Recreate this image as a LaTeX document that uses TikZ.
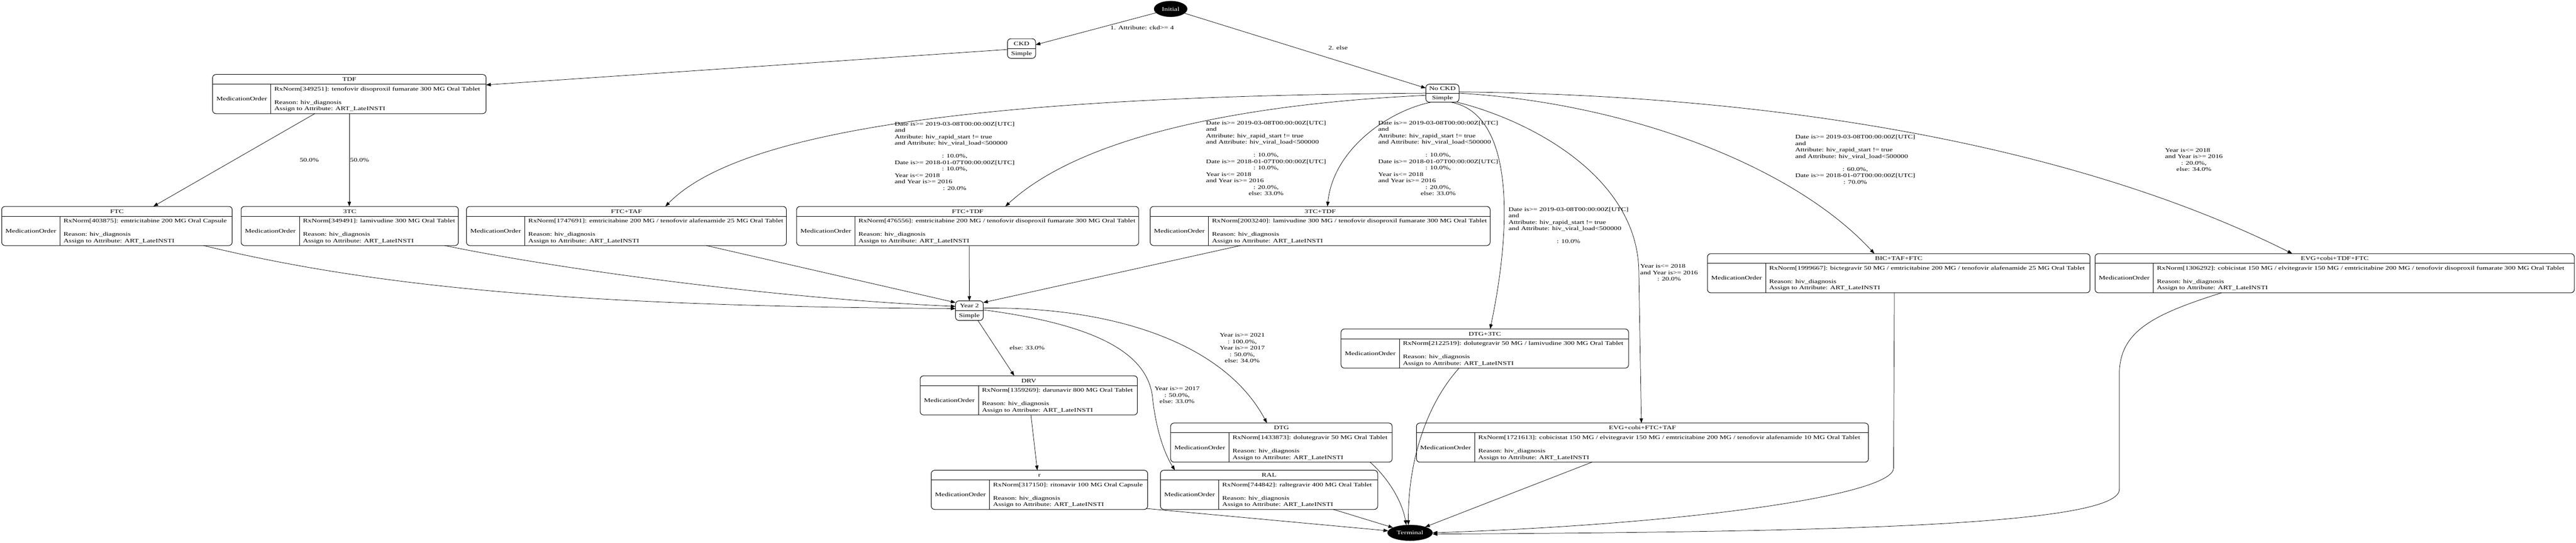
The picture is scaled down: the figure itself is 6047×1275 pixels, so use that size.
\documentclass[tikz,border=0pt]{standalone}
\usepackage{fontspec}
\setmainfont{Liberation Serif}[FakeStretch=1.33]
\usetikzlibrary{arrows.meta,calc,shapes.geometric}
\newcommand\mcline[1]{\multicolumn{1}{@{}c@{}}{#1}}
\newcommand\medbox[7]{%
  \node[medframe, minimum width={#4-#2}, minimum height={#5-#3}] (#1) at ({(#2+#4)/2},{(#3+#5)/2}) {};
  \draw[divline] ([yshift=-23pt]#1.north west) -- ([yshift=-23pt]#1.north east);
  \draw[divline] ([xshift=137pt,yshift=-23pt]#1.north west) -- ([xshift=137pt]#1.south west);
  \node[txt] (#1-t) at ([yshift=-11.5pt]#1.north) {#6};
  \node[txt] (#1-m) at ([xshift=68.5pt,yshift=-57.5pt]#1.north west) {MedicationOrder};
  \node[txt,anchor=west] (#1-r) at ([xshift=145pt,yshift=-34pt]#1.north west) {#7};
  \node[txt,anchor=west] (#1-e) at ([xshift=145pt,yshift=-65.5pt]#1.north west) {Reason: hiv\_diagnosis};
  \node[txt,anchor=west] (#1-a) at ([xshift=145pt,yshift=-80.5pt]#1.north west) {Assign to Attribute: ART\_LateINSTI};
}
\newcommand\simplebox[6]{%
  \node[medframe, minimum width={#4-#2}, minimum height={#5-#3}] (#1) at ({(#2+#4)/2},{(#3+#5)/2}) {};
  \draw[divline] (#1.west) -- (#1.east);
  \node[txt] (#1-t) at ($(#1.north)!0.25!(#1.south)$) {#6};
  \node[txt] (#1-s) at ($(#1.north)!0.75!(#1.south)$) {Simple};
}
\begin{document}
\begin{tikzpicture}[x=1pt,y=-1pt,
  font=\fontsize{13}{15.1}\selectfont,
  medframe/.style={draw, line width=1.2pt, rounded corners=8pt, inner sep=0pt, outer sep=0pt},
  divline/.style={line width=1.1pt},
  txt/.style={inner sep=0pt, text height=8.6pt, text depth=0pt},
  lbl/.style={inner sep=0pt},
  term/.style={ellipse, fill=black, draw=black, text=white, inner sep=0pt, outer sep=0pt},
  edge/.style={draw, line width=0.9pt, -{Triangle[length=11pt,width=8pt]}}]
\useasboundingbox (0,0) rectangle (6047,1275);

% start / end
\node[term, minimum width=78pt, minimum height=37pt] (init) at (2748,21) {Initial};
\node[term, minimum width=106pt, minimum height=37pt] (term) at (3310,1252) {Terminal};

% simple states
\simplebox{ckd}{2365}{91}{2431}{137}{CKD}
\simplebox{nockd}{3347}{198}{3425}{240}{No CKD}
\simplebox{year2}{2243}{707}{2308}{753}{Year 2}

% medication orders
\medbox{tdf}{499}{175}{1141}{267}{TDF}{RxNorm[349251]: tenofovir disoproxil fumarate 300 MG Oral Tablet}
\medbox{ftc}{4}{485}{545}{577}{FTC}{RxNorm[403875]: emtricitabine 200 MG Oral Capsule}
\medbox{3tc}{566}{485}{1076}{577}{3TC}{RxNorm[349491]: lamivudine 300 MG Oral Tablet}
\medbox{ftctaf}{1095}{485}{1846}{577}{FTC+TAF}{RxNorm[1747691]: emtricitabine 200 MG / tenofovir alafenamide 25 MG Oral Tablet}
\medbox{ftctdf}{1870}{485}{2673}{577}{FTC+TDF}{RxNorm[476556]: emtricitabine 200 MG / tenofovir disoproxil fumarate 300 MG Oral Tablet}
\medbox{3tctdf}{2700}{485}{3498}{577}{3TC+TDF}{RxNorm[2003240]: lamivudine 300 MG / tenofovir disoproxil fumarate 300 MG Oral Tablet}
\medbox{bic}{4008}{596}{4906}{688}{BIC+TAF+FTC}{RxNorm[1999667]: bictegravir 50 MG / emtricitabine 200 MG / tenofovir alafenamide 25 MG Oral Tablet}
\medbox{evgtdf}{4918}{596}{6043}{688}{EVG+cobi+TDF+FTC}{RxNorm[1306292]: cobicistat 150 MG / elvitegravir 150 MG / emtricitabine 200 MG / tenofovir disoproxil fumarate 300 MG Oral Tablet}
\medbox{dtg3tc}{3148}{773}{3823}{865}{DTG+3TC}{RxNorm[2122519]: dolutegravir 50 MG / lamivudine 300 MG Oral Tablet}
\medbox{drv}{2160}{883}{2670}{975}{DRV}{RxNorm[1359269]: darunavir 800 MG Oral Tablet}
\medbox{dtg}{2748}{994}{3268}{1086}{DTG}{RxNorm[1433873]: dolutegravir 50 MG Oral Tablet}
\medbox{evgtaf}{3325}{994}{4386}{1086}{EVG+cobi+FTC+TAF}{RxNorm[1721613]: cobicistat 150 MG / elvitegravir 150 MG / emtricitabine 200 MG / tenofovir alafenamide 10 MG Oral Tablet}
\medbox{rtv}{2186}{1105}{2694}{1197}{r}{RxNorm[317150]: ritonavir 100 MG Oral Capsule}
\medbox{ral}{2724}{1105}{3234}{1197}{RAL}{RxNorm[744842]: raltegravir 400 MG Oral Tablet}

% edges from the top
\draw[edge] (init) -- (ckd);
\draw[edge] (init) -- (nockd);
\draw[edge] (ckd) -- (tdf);
\draw[edge] ([xshift=240pt]tdf.south west) -- ([xshift=356pt]ftc.north west);
\draw[edge] ([xshift=321pt]tdf.south west) -- ([xshift=254pt]3tc.north west);

% edges from No CKD
\draw[edge] (nockd.west) .. controls (2400,225) and (1750,292) .. ([xshift=467pt]ftctaf.north west);
\draw[edge] ([yshift=-5pt]nockd.west) .. controls (3000,240) and (2560,300) .. ([xshift=490pt]ftctdf.north west);
\draw[edge] ([xshift=13pt]nockd.south west) .. controls (3260,260) and (3130,350) .. ([xshift=416pt]3tctdf.north west);
\draw[edge] ([xshift=58pt]nockd.south west) .. controls (3545,265) and (3555,500) .. ([xshift=350pt]dtg3tc.north west);
\draw[edge] ([xshift=-5pt]nockd.south east) .. controls (3600,285) and (3846,420) .. (3847,640) -- ([xshift=528pt]evgtaf.north west);
\draw[edge] (nockd.east) .. controls (3800,240) and (4200,380) .. ([xshift=392pt]bic.north west);
\draw[edge] ([yshift=3pt]nockd.east) .. controls (4300,225) and (4950,380) .. ([xshift=463pt]evgtdf.north west);

% edges into Year 2
\draw[edge] ([xshift=474pt]ftc.south west) .. controls (900,680) and (1400,720) .. ([yshift=5pt]year2.west);
\draw[edge] ([xshift=478pt]3tc.south west) .. controls (1300,630) and (1800,700) .. ([yshift=10pt]year2.west);
\draw[edge] ([xshift=563pt]ftctaf.south west) -- ([yshift=-4pt]year2.north west);
\draw[edge] ([xshift=405pt]ftctdf.south west) -- (year2.north);
\draw[edge] ([xshift=212pt]3tctdf.south west) -- ([yshift=-4pt]year2.north east);

% edges from Year 2
\draw[edge] ([xshift=20pt]year2.south) -- ([xshift=221pt]drv.north west);
\draw[edge] ([yshift=2pt]year2.east) .. controls (2550,760) and (2690,820) .. (2705,930) .. controls (2712,1000) and (2730,1060) .. ([xshift=34pt]ral.north west);
\draw[edge] ([yshift=6pt]year2.east) .. controls (2600,720) and (2870,800) .. ([xshift=226pt]dtg.north west);
\draw[edge] ([xshift=260pt]drv.south west) -- ([xshift=249pt]rtv.north west);

% edges into Terminal
\draw[edge] ([xshift=-2pt,yshift=2pt]rtv.south east) -- (term);
\draw[edge] ([xshift=406pt]ral.south west) -- (term);
\draw[edge] ([xshift=468pt]dtg.south west) .. controls (3250,1115) and (3290,1170) .. ([xshift=-9pt]term.north);
\draw[edge] ([xshift=277pt]dtg3tc.south west) .. controls (3340,960) and (3305,1100) .. ([xshift=-4pt]term.north);
\draw[edge] ([xshift=412pt]evgtaf.south west) -- (term);
\draw[edge] ([xshift=439pt]bic.south west) -- (4445,1100) .. controls (4445,1160) and (4000,1230) .. (term.east);
\draw[edge] ([xshift=297pt]evgtdf.south west) .. controls (5050,740) and (4975,780) .. (4975,880) -- (4975,1150) .. controls (4975,1240) and (4200,1250) .. ([yshift=-3pt]term.east);

% edge labels
\node[txt] (l1) at (2681,65) {1. Attribute: ckd>= 4};
\node[txt] (l2) at (3141,113) {2. else};
\node[txt] (l3) at (726,376) {50.0\%};
\node[txt] (l4) at (844,376) {50.0\%};
\node[lbl] (l5) at (2241,368) {\begin{tabular}{@{}l@{}}
Date is>= 2019-03-08T00:00:00Z[UTC]\\
and\\
Attribute: hiv\_rapid\_start != true\\
and Attribute: hiv\_viral\_load<500000\\
\\
\mcline{: 10.0\%,}\\
Date is>= 2018-01-07T00:00:00Z[UTC]\\
\mcline{: 10.0\%,}\\
Year is<= 2018\\
and Year is>= 2016\\
\mcline{: 20.0\%}
\end{tabular}};
\node[lbl] (l6) at (2972,373) {\begin{tabular}{@{}l@{}}
Date is>= 2019-03-08T00:00:00Z[UTC]\\
and\\
Attribute: hiv\_rapid\_start != true\\
and Attribute: hiv\_viral\_load<500000\\
\\
\mcline{: 10.0\%,}\\
Date is>= 2018-01-07T00:00:00Z[UTC]\\
\mcline{: 10.0\%,}\\
Year is<= 2018\\
and Year is>= 2016\\
\mcline{: 20.0\%,}\\
\mcline{else: 33.0\%}
\end{tabular}};
\node[lbl] (l7) at (3376,373) {\begin{tabular}{@{}l@{}}
Date is>= 2019-03-08T00:00:00Z[UTC]\\
and\\
Attribute: hiv\_rapid\_start != true\\
and Attribute: hiv\_viral\_load<500000\\
\\
\mcline{: 10.0\%,}\\
Date is>= 2018-01-07T00:00:00Z[UTC]\\
\mcline{: 10.0\%,}\\
Year is<= 2018\\
and Year is>= 2016\\
\mcline{: 20.0\%,}\\
\mcline{else: 33.0\%}
\end{tabular}};
\node[lbl] (l8) at (3682,531) {\begin{tabular}{@{}l@{}}
Date is>= 2019-03-08T00:00:00Z[UTC]\\
and\\
Attribute: hiv\_rapid\_start != true\\
and Attribute: hiv\_viral\_load<500000\\
\\
\mcline{: 10.0\%}
\end{tabular}};
\node[lbl] (l9) at (3918,642) {\begin{tabular}{@{}l@{}}
Year is<= 2018\\
and Year is>= 2016\\
\mcline{: 20.0\%}
\end{tabular}};
\node[lbl] (l10) at (4355,376) {\begin{tabular}{@{}l@{}}
Date is>= 2019-03-08T00:00:00Z[UTC]\\
and\\
Attribute: hiv\_rapid\_start != true\\
and Attribute: hiv\_viral\_load<500000\\
\\
\mcline{: 60.0\%,}\\
Date is>= 2018-01-07T00:00:00Z[UTC]\\
\mcline{: 70.0\%}
\end{tabular}};
\node[lbl] (l11) at (5150,377) {\begin{tabular}{@{}l@{}}
Year is<= 2018\\
and Year is>= 2016\\
\mcline{: 20.0\%,}\\
\mcline{else: 34.0\%}
\end{tabular}};
\node[txt] (l12) at (2411,818) {else: 33.0\%};
\node[lbl] (l13) at (2916,819) {\begin{tabular}{@{}c@{}}
Year is>= 2021\\
: 100.0\%,\\
Year is>= 2017\\
: 50.0\%,\\
else: 34.0\%
\end{tabular}};
\node[lbl] (l14) at (2763,930) {\begin{tabular}{@{}c@{}}
Year is>= 2017\\
: 50.0\%,\\
else: 33.0\%
\end{tabular}};
\end{tikzpicture}
\end{document}
